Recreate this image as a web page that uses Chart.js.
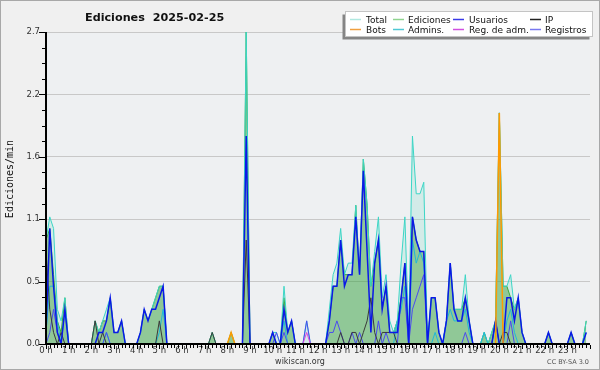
<!DOCTYPE html>
<html>
<head>
<meta charset="utf-8">
<script src="https://cdn.jsdelivr.net/npm/chart.js@4.4.1/dist/chart.umd.min.js"></script>
<style>
  html, body { margin: 0; padding: 0; background: #f0f0f0; }
  #wrap { width: 600px; height: 370px; }
</style>
</head>
<body>
<div id="wrap"><canvas id="chart" width="600" height="370"></canvas></div>
<script>
// 10-minute slots, edits per minute
const hourLabels = ["0 h", "1 h", "2 h", "3 h", "4 h", "5 h", "6 h", "7 h", "8 h", "9 h", "10 h", "11 h",
  "12 h", "13 h", "14 h", "15 h", "16 h", "17 h", "18 h", "19 h", "20 h", "21 h", "22 h", "23 h"];
const yTicks = [0, 0.54, 1.08, 1.62, 2.16, 2.7];
const slotsPerHour = 6;

const total = [
  0.9, 1.1, 1.0, 0.3, 0.2, 0.4,   0, 0, 0, 0, 0, 0,
  0, 0.2, 0.1, 0.2, 0.3, 0.4,     0.1, 0.1, 0.2, 0, 0, 0,
  0, 0.1, 0.3, 0.2, 0.3, 0.4,     0.5, 0.5, 0, 0, 0, 0,
  0, 0, 0, 0, 0, 0,               0, 0, 0.1, 0, 0, 0,
  0, 0.1, 0, 0, 0, 2.7,           0, 0, 0, 0, 0, 0,
  0.1, 0.1, 0, 0.5, 0.1, 0.2,     0, 0, 0, 0.2, 0, 0,
  0, 0, 0, 0.3, 0.6, 0.7,         1.0, 0.6, 0.7, 0.7, 1.2, 0.6,
  1.6, 1.2, 0.5, 0.8, 1.1, 0.4,   0.6, 0.2, 0.1, 0.2, 0.7, 1.1,
  0.1, 1.8, 1.3, 1.3, 1.4, 0,     0.4, 0.4, 0.1, 0, 0.2, 0.7,
  0.3, 0.3, 0.3, 0.6, 0.2, 0,     0, 0, 0.1, 0, 0.1, 0.2,
  2.0, 0.5, 0.5, 0.6, 0.3, 0.4,   0.1, 0, 0, 0, 0, 0,
  0, 0.1, 0, 0, 0, 0,             0, 0.1, 0, 0, 0, 0.2
];
const ediciones = [
  0.9, 1.0, 0.6, 0.2, 0.1, 0.4,   0, 0, 0, 0, 0, 0,
  0, 0.2, 0.1, 0.2, 0.2, 0.4,     0.1, 0.1, 0.2, 0, 0, 0,
  0, 0.1, 0.3, 0.2, 0.3, 0.4,     0.5, 0.5, 0, 0, 0, 0,
  0, 0, 0, 0, 0, 0,               0, 0, 0.1, 0, 0, 0,
  0, 0.1, 0, 0, 0, 2.7,           0, 0, 0, 0, 0, 0,
  0.1, 0, 0, 0.4, 0.1, 0.2,       0, 0, 0, 0, 0, 0,
  0, 0, 0, 0.2, 0.5, 0.5,         0.9, 0.6, 0.6, 0.6, 1.2, 0.6,
  1.6, 1.2, 0.5, 0.7, 0.9, 0.3,   0.5, 0.1, 0.1, 0.2, 0.4, 0.7,
  0, 1.1, 0.9, 0.8, 0.8, 0,       0.4, 0.4, 0.1, 0, 0.2, 0.7,
  0.3, 0.3, 0.3, 0.4, 0.2, 0,     0, 0, 0.1, 0, 0.1, 0.2,
  2.0, 0.5, 0.5, 0.4, 0.3, 0.4,   0.1, 0, 0, 0, 0, 0,
  0, 0.1, 0, 0, 0, 0,             0, 0.1, 0, 0, 0, 0.2
];
const usuarios = [
  0.1, 1.0, 0.5, 0.1, 0, 0.3,     0, 0, 0, 0, 0, 0,
  0, 0, 0.1, 0.1, 0.2, 0.4,       0.1, 0.1, 0.2, 0, 0, 0,
  0, 0.1, 0.3, 0.2, 0.3, 0.3,     0.4, 0.5, 0, 0, 0, 0,
  0, 0, 0, 0, 0, 0,               0, 0, 0, 0, 0, 0,
  0, 0, 0, 0, 0, 1.8,             0, 0, 0, 0, 0, 0,
  0.1, 0, 0, 0.3, 0.1, 0.2,       0, 0, 0, 0, 0, 0,
  0, 0, 0, 0.2, 0.5, 0.5,         0.9, 0.5, 0.6, 0.6, 1.1, 0.6,
  1.5, 0.8, 0.1, 0.7, 0.9, 0.3,   0.5, 0.1, 0.1, 0.1, 0.4, 0.7,
  0, 1.1, 0.9, 0.8, 0.8, 0,       0.4, 0.4, 0.1, 0, 0.2, 0.7,
  0.3, 0.2, 0.2, 0.4, 0.2, 0,     0, 0, 0, 0, 0, 0.2,
  0, 0, 0.4, 0.4, 0.2, 0.4,       0.1, 0, 0, 0, 0, 0,
  0, 0.1, 0, 0, 0, 0,             0, 0.1, 0, 0, 0, 0.1
];
const ip = [
  0.8, 0.3, 0.1, 0, 0.1, 0,       0, 0, 0, 0, 0, 0,
  0, 0.2, 0, 0.1, 0, 0,           0, 0, 0, 0, 0, 0,
  0, 0, 0, 0, 0, 0,               0.2, 0, 0, 0, 0, 0,
  0, 0, 0, 0, 0, 0,               0, 0, 0.1, 0, 0, 0,
  0, 0, 0, 0, 0, 0.9,             0, 0, 0, 0, 0, 0,
  0, 0, 0, 0, 0, 0,               0, 0, 0, 0, 0, 0,
  0, 0, 0, 0, 0, 0,               0.1, 0, 0, 0.1, 0.1, 0,
  0.1, 0.2, 0.4, 0.1, 0, 0.1,     0.1, 0.1, 0.1, 0, 0, 0,
  0, 0, 0, 0, 0, 0,               0, 0, 0, 0, 0, 0,
  0, 0, 0, 0, 0, 0,               0, 0, 0, 0, 0, 0.2,
  0, 0.1, 0.1, 0, 0, 0,           0, 0, 0, 0, 0, 0,
  0, 0, 0, 0, 0, 0,               0, 0, 0, 0, 0, 0
];
const bots = [
  0, 0, 0, 0, 0, 0,   0, 0, 0, 0, 0, 0,
  0, 0, 0, 0, 0, 0,   0, 0, 0, 0, 0, 0,
  0, 0, 0, 0, 0, 0,   0, 0, 0, 0, 0, 0,
  0, 0, 0, 0, 0, 0,   0, 0, 0, 0, 0, 0,
  0, 0.1, 0, 0, 0, 0, 0, 0, 0, 0, 0, 0,
  0, 0, 0, 0, 0, 0,   0, 0, 0, 0, 0, 0,
  0, 0, 0, 0, 0, 0,   0, 0, 0, 0, 0, 0,
  0, 0, 0, 0, 0, 0,   0, 0, 0, 0, 0, 0,
  0, 0, 0, 0, 0, 0,   0, 0, 0, 0, 0, 0,
  0, 0, 0, 0, 0, 0,   0, 0, 0, 0, 0, 0,
  2.0, 0, 0, 0, 0, 0, 0, 0, 0, 0, 0, 0,
  0, 0, 0, 0, 0, 0,   0, 0, 0, 0, 0, 0
];
const admins = [
  0.1, 0.5, 0.5, 0.2, 0, 0.3,     0, 0, 0, 0, 0, 0,
  0, 0, 0, 0, 0.1, 0,             0, 0, 0, 0, 0, 0,
  0, 0, 0, 0, 0, 0,               0.1, 0.3, 0, 0, 0, 0,
  0, 0, 0, 0, 0, 0,               0, 0, 0, 0, 0, 0,
  0, 0, 0, 0, 0, 0,               0, 0, 0, 0, 0, 0,
  0, 0, 0, 0.2, 0, 0,             0, 0, 0, 0, 0, 0,
  0, 0, 0, 0, 0, 0,               0, 0, 0, 0, 0, 0,
  0, 0, 0, 0, 0, 0,               0, 0, 0, 0.2, 0.3, 0.5,
  0, 0.9, 0.7, 0.8, 0.7, 0,       0, 0.1, 0, 0, 0.2, 0.3,
  0.2, 0.2, 0.2, 0.3, 0.1, 0,     0, 0, 0.1, 0, 0, 0,
  0, 0, 0.2, 0.3, 0.1, 0,         0, 0, 0, 0, 0, 0,
  0, 0, 0, 0, 0, 0,               0, 0, 0, 0, 0, 0.1
];
const regAdm = [
  0, 0, 0, 0, 0, 0,   0, 0, 0, 0, 0, 0,
  0, 0, 0, 0, 0, 0,   0, 0, 0, 0, 0, 0,
  0, 0, 0, 0, 0, 0,   0, 0, 0, 0, 0, 0,
  0, 0, 0, 0, 0, 0,   0, 0, 0, 0, 0, 0,
  0, 0, 0, 0, 0, 0,   0, 0, 0, 0, 0, 0,
  0, 0, 0, 0, 0, 0,   0, 0, 0, 0.1, 0, 0,
  0, 0, 0, 0, 0, 0,   0, 0, 0, 0, 0, 0,
  0, 0, 0, 0, 0, 0,   0, 0, 0, 0, 0, 0,
  0, 0, 0, 0, 0, 0,   0, 0, 0, 0, 0, 0,
  0, 0, 0, 0, 0, 0,   0, 0, 0, 0, 0, 0,
  0, 0, 0, 0, 0, 0,   0, 0, 0, 0, 0, 0,
  0, 0, 0, 0, 0, 0,   0, 0, 0, 0, 0, 0
];
const registros = [
  0, 0.1, 0.3, 0.1, 0, 0,         0, 0, 0, 0, 0, 0,
  0, 0, 0, 0, 0.1, 0,             0, 0, 0, 0, 0, 0,
  0, 0, 0, 0, 0, 0,               0, 0, 0, 0, 0, 0,
  0, 0, 0, 0, 0, 0,               0, 0, 0, 0, 0, 0,
  0, 0, 0, 0, 0, 0,               0, 0, 0, 0, 0, 0,
  0, 0.1, 0, 0.1, 0, 0,           0, 0, 0, 0.2, 0, 0,
  0, 0, 0, 0.1, 0.1, 0.2,         0.1, 0, 0, 0.1, 0, 0.1,
  0, 0, 0, 0, 0.2, 0,             0.1, 0, 0, 0, 0.4, 0.4,
  0, 0.3, 0.4, 0.5, 0.6, 0,       0, 0, 0, 0, 0, 0,
  0, 0, 0, 0.1, 0, 0,             0, 0, 0, 0, 0, 0,
  0, 0, 0, 0.2, 0, 0,             0, 0, 0, 0, 0, 0,
  0, 0, 0, 0, 0, 0,               0, 0, 0, 0, 0, 0
];

function points(values) {
  return values.map((v, i) => ({ x: i / slotsPerHour, y: v }));
}

function line(label, values, color, legendColor, width, order, extra) {
  return Object.assign({
    label: label,
    data: points(values),
    borderColor: color,
    legendColor: legendColor,
    borderWidth: width,
    pointRadius: 0,
    tension: 0,
    fill: false,
    order: order,
  }, extra || {});
}

// legend order; "order" controls which line is painted on top
const datasets = [
  line("Total", total, "#3cd6c6", "#b0e8e0", 1, 6,
    { fill: 1, backgroundColor: "rgba(130,220,205,0.25)" }),
  line("Ediciones", ediciones, "#3aa83a", "#90d490", 1, 7,
    { fill: "origin", backgroundColor: "rgba(50,160,60,0.5)" }),
  line("Usuarios", usuarios, "#0a18e8", "#3a3ae8", 1.5, 2),
  line("IP", ip, "#3a3a3a", "#222222", 1, 3),
  line("Bots", bots, "#ff9a00", "#f0a040", 1.5, 0),
  line("Admins.", admins, "#20b8d8", "#50c8d4", 1, 5),
  line("Reg. de adm.", regAdm, "#e040e0", "#d050e0", 1, 1),
  line("Registros", registros, "#4a4af0", "#7878f0", 1, 4),
];

const decor = {
  id: "decor",
  beforeDraw(chart) {
    const { ctx, chartArea: a } = chart;
    ctx.save();
    ctx.fillStyle = "#f0f0f0";
    ctx.fillRect(0, 0, 600, 370);
    ctx.strokeStyle = "#a8a8a8";
    ctx.lineWidth = 1;
    ctx.strokeRect(0.5, 0.5, 599, 369);
    ctx.fillStyle = "#eef0f2";
    ctx.fillRect(a.left, a.top, a.right - a.left, a.bottom - a.top);
    ctx.restore();
  },
  afterDraw(chart) {
    const { ctx, chartArea: a } = chart;
    const xs = chart.scales.x, ys = chart.scales.y;
    ctx.save();

    // axis lines and tick marks
    ctx.strokeStyle = "#000";
    ctx.lineWidth = 2;
    ctx.beginPath();
    ctx.moveTo(a.left, a.top);
    ctx.lineTo(a.left, a.bottom);
    ctx.lineTo(a.right, a.bottom);
    ctx.stroke();

    ctx.lineWidth = 1;
    ctx.beginPath();
    const yMax = yTicks[yTicks.length - 1];
    for (let k = 0; k <= 20; k++) {
      const py = Math.round(ys.getPixelForValue(yMax * k / 20)) + 0.5;
      const len = k % 4 === 0 ? 6 : 3;
      ctx.moveTo(a.left - 1 - len, py);
      ctx.lineTo(a.left - 1, py);
    }
    for (let k = 0; k <= 24 * slotsPerHour; k++) {
      const px = Math.round(xs.getPixelForValue(k / slotsPerHour)) + 0.5;
      const len = k % slotsPerHour === 0 ? 4 : 3;
      ctx.moveTo(px, a.bottom + 1);
      ctx.lineTo(px, a.bottom + 1 + len);
    }
    ctx.stroke();

    // title
    ctx.fillStyle = "#111";
    ctx.font = 'bold 11.2px "DejaVu Sans"';
    ctx.textAlign = "left";
    ctx.textBaseline = "alphabetic";
    ctx.fillText("Ediciones  2025-02-25", 85, 21);

    // y axis title
    ctx.save();
    ctx.translate(13, 179);
    ctx.rotate(-Math.PI / 2);
    ctx.font = '10px "DejaVu Sans Mono"';
    ctx.textAlign = "center";
    ctx.fillStyle = "#111";
    ctx.fillText("Ediciones/min", 0, 0);
    ctx.restore();

    // footer
    ctx.font = '8px "DejaVu Sans"';
    ctx.fillStyle = "#333";
    ctx.textAlign = "center";
    ctx.fillText("wikiscan.org", 300, 364);
    ctx.font = '6.5px "DejaVu Sans"';
    ctx.fillStyle = "#555";
    ctx.textAlign = "right";
    ctx.fillText("CC BY-SA 3.0", 589, 364);

    // legend box
    const bx = 345.5, by = 11.5, bw = 247, bh = 25;
    ctx.fillStyle = "#858585";
    ctx.fillRect(bx - 3, by + 3, bw, bh);
    ctx.fillStyle = "#ffffff";
    ctx.fillRect(bx, by, bw, bh);
    ctx.strokeStyle = "#c4c4c4";
    ctx.strokeRect(bx, by, bw, bh);

    const cols = [[350, 366], [393, 408], [453, 469], [530, 545]];
    const rows = [19.5, 29.5];
    ctx.font = '9px "DejaVu Sans"';
    ctx.textAlign = "left";
    chart.data.datasets.forEach((ds, i) => {
      const [lx, tx] = cols[i % 4];
      const ry = rows[Math.floor(i / 4)];
      ctx.strokeStyle = ds.legendColor;
      ctx.lineWidth = 1.5;
      ctx.beginPath();
      ctx.moveTo(lx, ry);
      ctx.lineTo(lx + 11, ry);
      ctx.stroke();
      ctx.fillStyle = "#111";
      ctx.fillText(ds.label, tx, ry + 3.5);
    });
    ctx.restore();
  },
};

new Chart(document.getElementById("chart"), {
  type: "line",
  data: { datasets },
  plugins: [decor],
  options: {
    responsive: false,
    devicePixelRatio: 1,
    animation: false,
    events: [],
    layout: { padding: { top: 32, right: 10, left: 0, bottom: 0 } },
    plugins: {
      legend: { display: false },
      tooltip: { enabled: false },
      filler: { drawTime: "beforeDatasetsDraw" },
    },
    scales: {
      x: {
        type: "linear",
        min: 0,
        max: 24,
        afterFit: (s) => { s.height = 26; },
        afterBuildTicks: (s) => { s.ticks = hourLabels.map((_, h) => ({ value: h })); },
        ticks: {
          autoSkip: false,
          maxRotation: 0,
          padding: 2,
          color: "#333",
          font: { family: "DejaVu Sans", size: 8.5 },
          callback: (v, idx) => hourLabels[idx],
        },
        grid: { display: false, drawTicks: false },
        border: { display: false },
      },
      y: {
        min: 0,
        max: 2.7,
        afterFit: (s) => { s.width = 46; },
        afterBuildTicks: (s) => { s.ticks = yTicks.map((v) => ({ value: v })); },
        ticks: {
          padding: 6,
          color: "#333",
          font: { family: "DejaVu Sans", size: 8.5 },
          callback: (v) => v.toFixed(1),
        },
        grid: {
          drawTicks: false,
          color: (c) => (c.tick && c.tick.value > 0 ? "#c8c8c8" : "rgba(0,0,0,0)"),
        },
        border: { display: false },
      },
    },
  },
});
</script>
</body>
</html>
